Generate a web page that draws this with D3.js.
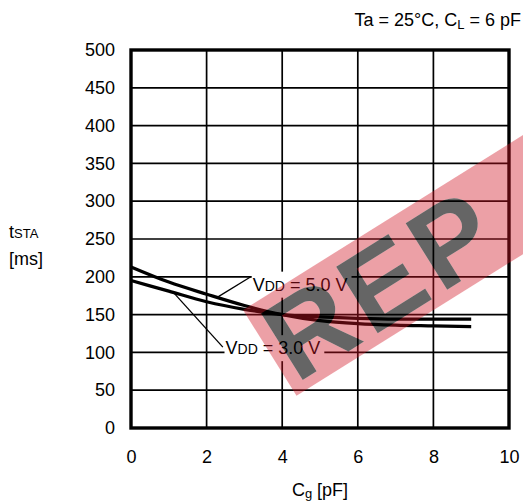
<!DOCTYPE html>
<html>
<head>
<meta charset="utf-8">
<script src="https://cdn.jsdelivr.net/npm/d3@7"></script>
<style>
  html, body { margin: 0; padding: 0; background: #fff; }
  svg { display: block; }
  text { font-family: "Liberation Sans", Arial, sans-serif; fill: #000; }
</style>
</head>
<body>
<svg id="chart" width="523" height="504"></svg>
<script>
// ---- data ----
const cg = [0, 1, 2, 3, 4, 5, 6, 7, 8, 9];
const vdd50 = [213, 193, 177, 162, 150, 142, 138, 136, 135, 134];
const vdd30 = [195, 181, 167, 157, 150, 147, 145, 144, 144, 144];
const xTicks = [0, 2, 4, 6, 8, 10];
const yTicks = [0, 50, 100, 150, 200, 250, 300, 350, 400, 450, 500];
const seriesLabels = ["5.0 V", "3.0 V"];
const watermarkLetters = ["R", "E", "P"];

const svg = d3.select("#chart");
const x = d3.scaleLinear().domain([0, 10]).range([131, 509]);
const y = d3.scaleLinear().domain([0, 500]).range([428, 50]);

// grid
const grid = svg.append("g");
grid.selectAll("line.v").data(xTicks.slice(1, -1)).enter().append("line")
  .attr("x1", d => x(d)).attr("x2", d => x(d))
  .attr("y1", y(0)).attr("y2", y(500))
  .attr("stroke", "#000").attr("stroke-width", 1.7);
grid.selectAll("line.h").data(yTicks.slice(1, -1)).enter().append("line")
  .attr("y1", d => y(d)).attr("y2", d => y(d))
  .attr("x1", x(0)).attr("x2", x(10))
  .attr("stroke", "#000").attr("stroke-width", 1.7);

// axes (labels only)
const yAxis = svg.append("g").attr("transform", `translate(${x(0) - 14},0)`)
  .call(d3.axisLeft(y).tickValues(yTicks).tickSize(0).tickPadding(2));
const xAxis = svg.append("g").attr("transform", `translate(0,${y(0) + 16})`)
  .call(d3.axisBottom(x).tickValues(xTicks).tickSize(0).tickPadding(6));
[yAxis, xAxis].forEach(a => {
  a.select(".domain").remove();
  a.selectAll("text").style("font-family", '"Liberation Sans", Arial, sans-serif')
    .style("font-size", "18px").attr("fill", "#000");
});

// label backgrounds + labels
const labelDefs = [
  { name: seriesLabels[0], tx: 3.22, tv: 190, lx1: 3.17, lv1: 200, curveX: 2.28, series: vdd50 },
  { name: seriesLabels[1], tx: 2.5, tv: 106, lx1: 2.43, lv1: 107, curveX: 1.12, series: vdd30 }
];
const lblG = svg.append("g");
labelDefs.forEach(d => {
  const t = lblG.append("text")
    .attr("x", x(d.tx)).attr("y", y(d.tv))
    .attr("dy", "0.35em").style("font-size", "18px");
  t.append("tspan").text("V");
  t.append("tspan").text("DD").style("font-size", "14px");
  t.append("tspan").text(" = " + d.name);
  const bb = t.node().getBBox();
  lblG.insert("rect", "text")
    .attr("x", bb.x - 1).attr("y", bb.y - 3)
    .attr("width", bb.width + 5).attr("height", bb.height + 6)
    .attr("fill", "#fff");
});

// curves
const line = d3.line().x((d, i) => x(cg[i])).y(d => y(d)).curve(d3.curveMonotoneX);
[vdd50, vdd30].forEach(s => {
  svg.append("path").datum(s).attr("d", line)
    .attr("fill", "none").attr("stroke", "#000").attr("stroke-width", 3.2);
});

// leaders
function interp(series, cx) {
  const i = Math.min(Math.floor(cx), cg.length - 2);
  const f = cx - cg[i];
  return series[i] + (series[i + 1] - series[i]) * f;
}
labelDefs.forEach(d => {
  svg.append("line")
    .attr("x1", x(d.lx1)).attr("y1", y(d.lv1))
    .attr("x2", x(d.curveX)).attr("y2", y(interp(d.series, d.curveX)))
    .attr("stroke", "#000").attr("stroke-width", 1.3);
});

// frame
svg.append("rect").attr("x", x(0)).attr("y", y(500))
  .attr("width", x(10) - x(0)).attr("height", y(0) - y(500))
  .attr("fill", "none").attr("stroke", "#000").attr("stroke-width", 3.4);

// titles
const ttl = svg.append("text").attr("x", 521).attr("y", 26)
  .attr("text-anchor", "end").style("font-size", "18px");
ttl.append("tspan").text("Ta = 25\u00B0C, C");
ttl.append("tspan").text("L").style("font-size", "13px").attr("dy", 3);
ttl.append("tspan").text(" = 6 pF").attr("dy", -3);

const xt = svg.append("text").attr("x", (x(0) + x(10)) / 2).attr("y", 496)
  .attr("text-anchor", "middle").style("font-size", "18px");
xt.append("tspan").text("C");
xt.append("tspan").text("g").style("font-size", "13px").attr("dy", 2);
xt.append("tspan").text(" [pF]").attr("dy", -2);

const yt = svg.append("text").attr("x", 9).attr("y", 238).style("font-size", "18px");
yt.append("tspan").text("t");
yt.append("tspan").text("STA").style("font-size", "13px");
svg.append("text").attr("x", 9).attr("y", 265).style("font-size", "18px").text("[ms]");

// watermark band
const defs = svg.append("defs");
const mask = defs.append("mask").attr("id", "wmMask").attr("maskUnits", "userSpaceOnUse")
  .attr("x", -200).attr("y", -200).attr("width", 1200).attr("height", 800);
mask.append("rect").attr("x", -200).attr("y", -200).attr("width", 1200).attr("height", 800).attr("fill", "#fff");
const wm = svg.append("g").attr("transform", "translate(243,310) rotate(-32)");
wm.append("rect").attr("x", 0).attr("y", 0).attr("width", 600).attr("height", 101)
  .attr("fill", "rgb(210,20,35)").attr("opacity", 0.4).attr("mask", "url(#wmMask)");
const wmSize = 114, wmGap = 6;
let pos = 6;
watermarkLetters.forEach(ch => {
  const m = mask.append("text").attr("x", pos).attr("y", 91)
    .style("font-size", wmSize + "px").style("font-weight", "bold")
    .attr("fill", "#000").text(ch);
  wm.append("text").attr("x", pos).attr("y", 91)
    .style("font-size", wmSize + "px").style("font-weight", "bold")
    .attr("fill", "#fff").attr("opacity", 0.6).text(ch);
  pos += m.node().getComputedTextLength() + wmGap;
});
</script>
</body>
</html>
